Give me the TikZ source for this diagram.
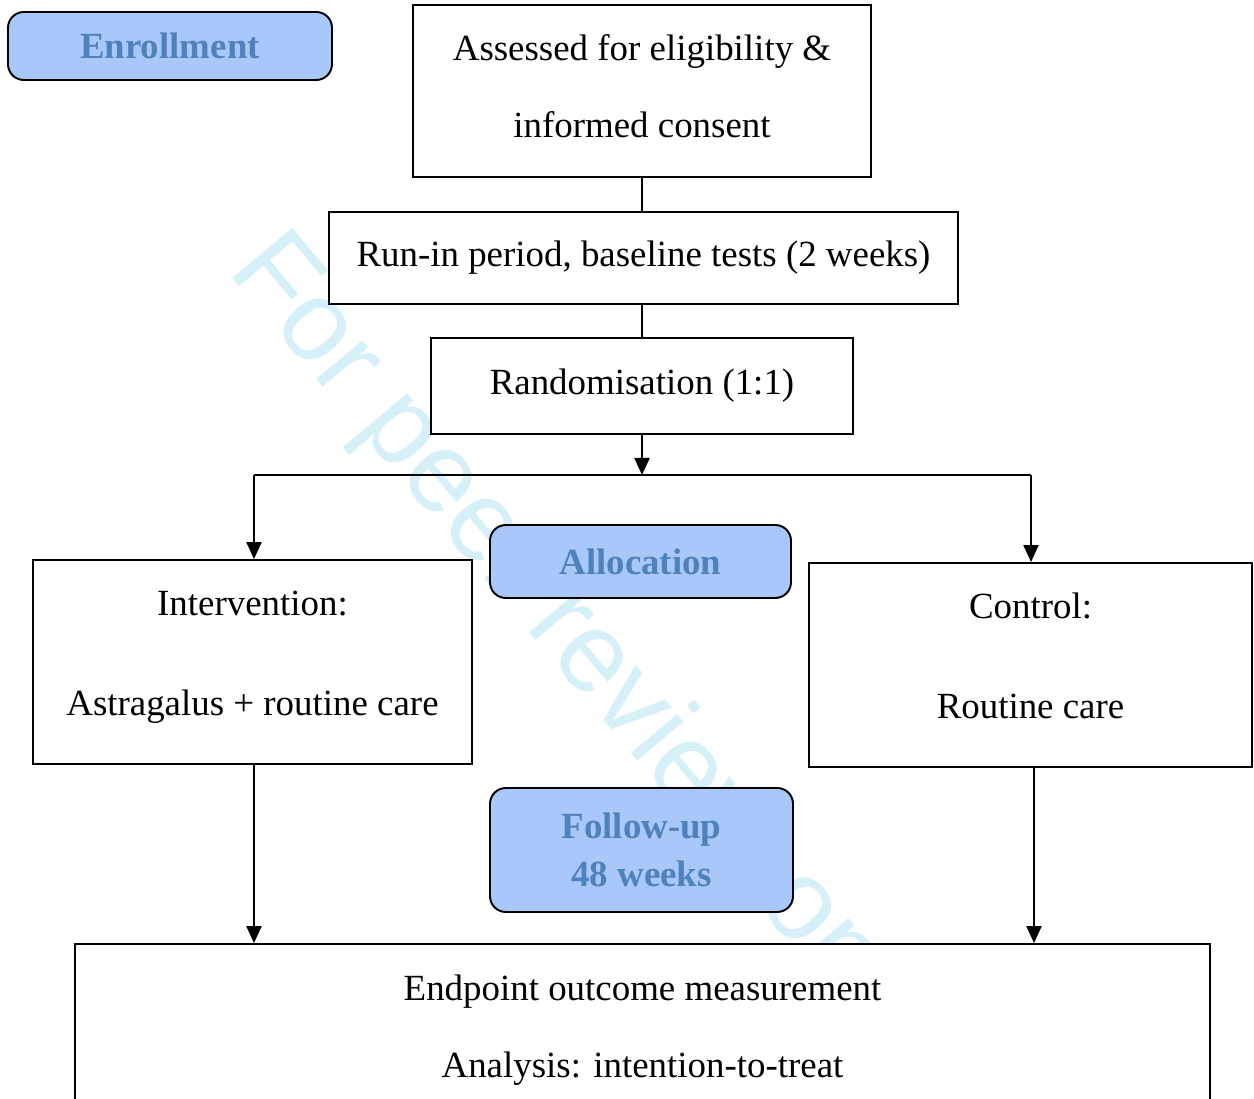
\documentclass[tikz,border=0pt]{standalone}
\usepackage{fontspec}
\setmainfont{Liberation Serif}
\newfontfamily\markfont{Liberation Sans}
\usetikzlibrary{positioning, arrows.meta}
\definecolor{stagefill}{RGB}{168,200,250}
\definecolor{stagetext}{RGB}{79,129,189}
\definecolor{markblue}{RGB}{214,240,250}
\tikzset{
box/.style={draw, line width=1.1pt, fill=white, align=center, inner sep=0pt}, % plain white boxes of the flow
stage/.style={draw, line width=1.1pt, rounded corners=9pt, fill=stagefill, text=stagetext, align=center, inner sep=0pt,
  font=\bfseries\fontsize{21}{24}\selectfont}, % blue labels of the trial stages
flow/.style={line width=1.2pt}, % plain joining lines
arrow/.style={flow, -{Triangle[length=3.4mm, width=3mm]}}, % lines with a head
}

\begin{document}
\begin{tikzpicture}
        \useasboundingbox (0, 0) rectangle (25.08, -21.98);
        \node[rotate=-50, anchor=base west, inner sep=0pt, text=markblue, font=\markfont\fontsize{65}{80}\selectfont] (watermark) at (4.52, -5.42) {For peer review only};

        \node[stage, minimum width=6.48cm, minimum height=1.36cm] (enrollment) at (3.40, -0.92) {Enrollment};
        \node[box, minimum width=9.16cm, minimum height=3.44cm, text depth=0.2cm, font=\fontsize{21}{43.7}\selectfont] (assessed) at (12.84, -1.82) {Assessed for eligibility \&\\informed consent};
        \node[box, minimum width=12.58cm, minimum height=1.84cm, font=\fontsize{21}{24}\selectfont] (run-in) at (12.87, -5.16) {Run-in period, baseline tests (2 weeks)};
        \node[box, minimum width=8.44cm, minimum height=1.92cm, font=\fontsize{21}{24}\selectfont] (randomisation) at (12.84, -7.72) {Randomisation (1:1)};
        \node[stage, minimum width=6.02cm, minimum height=1.46cm] (allocation) at (12.81, -11.23) {Allocation};
        \node[box, minimum width=8.78cm, minimum height=4.08cm, text depth=0.36cm, font=\fontsize{21}{56.9}\selectfont] (intervention) at (5.05, -13.24) {Intervention:\\Astragalus + routine care};
        \node[box, minimum width=8.86cm, minimum height=4.08cm, text depth=0.36cm, font=\fontsize{21}{56.9}\selectfont] (control) at (20.61, -13.30) {Control:\\Routine care};
        \node[stage, minimum width=6.06cm, minimum height=2.48cm, font=\bfseries\fontsize{21}{27.3}\selectfont] (follow-up) at (12.83, -17.00) {Follow-up\\48 weeks};
        \node[box, minimum width=22.70cm, minimum height=3.46cm, font=\fontsize{21}{43.7}\selectfont] (endpoint) at (12.85, -20.61) {Endpoint outcome measurement\\Analysis: intention-to-treat};

        \coordinate (split) at (12.84, -9.50);
        \coordinate (split-left) at (5.08, -9.50);
        \coordinate (split-right) at (20.62, -9.50);
        \coordinate (control-out) at (20.68, -15.34);

        \draw[flow] (assessed.south) -- (assessed.south |- run-in.north);
        \draw[flow] (randomisation.north |- run-in.south) -- (randomisation.north);
        \draw[arrow] (randomisation) -- (split);
        \draw[flow] (split-left) -- (split-right);
        \draw[arrow] (split-left) -- (split-left |- intervention.north);
        \draw[arrow] (split-right) -- (split-right |- control.north);
        \draw[arrow] (split-left |- intervention.south) -- (split-left |- endpoint.north);
        \draw[arrow] (control-out) -- (control-out |- endpoint.north);
    \end{tikzpicture}
\end{document}
